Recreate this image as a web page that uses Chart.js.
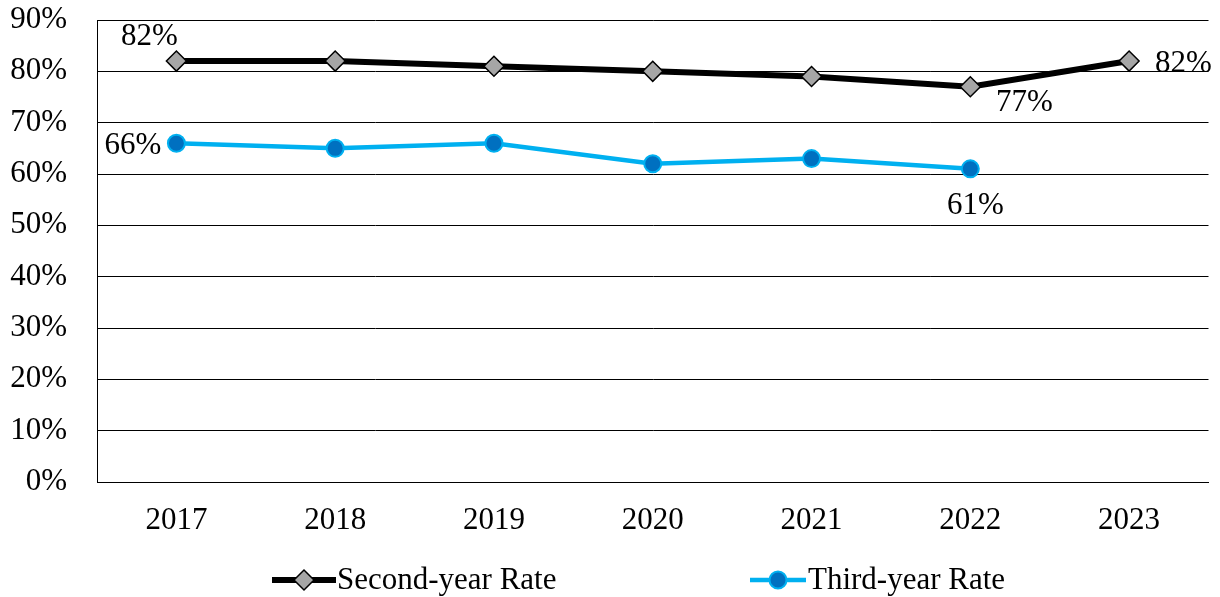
<!DOCTYPE html>
<html>
<head>
<meta charset="utf-8">
<script src="https://cdn.jsdelivr.net/npm/chart.js@4/dist/chart.umd.min.js"></script>
<style>
  html, body { margin: 0; padding: 0; background: #fff; }
  #wrap { width: 1220px; height: 597px; }
</style>
</head>
<body>
<div id="wrap"><canvas id="c" width="1220" height="597"></canvas></div>
<script>
// Retention rates by cohort year (percent)
const years = ['2017', '2018', '2019', '2020', '2021', '2022', '2023'];
const secondYearRate = [82, 82, 81, 80, 79, 77, 82];
const thirdYearRate = [66, 65, 66, 62, 63, 61, null];
const yTicks = [0, 10, 20, 30, 40, 50, 60, 70, 80, 90];

const FONT = '"Liberation Serif", "Times New Roman", serif';
const FONT_SIZE = 31;
const BLACK = '#000000';
const BLUE = '#00B0F0';
const BLUE_DARK = '#0070C0';
const GREY = '#A6A6A6';

// Which points carry a value label, and where the text sits relative to the point
const labelSpots = [
  { ds: 0, i: 0, dx: -27, dy: -24, align: 'center' },
  { ds: 0, i: 5, dx: 54, dy: 16, align: 'center' },
  { ds: 0, i: 6, dx: 26, dy: 3, align: 'left' },
  { ds: 1, i: 0, dx: -15, dy: 3, align: 'right' },
  { ds: 1, i: 5, dx: 5, dy: 37, align: 'center' }
];

const valueLabels = {
  id: 'valueLabels',
  afterDatasetsDraw(chart) {
    const ctx = chart.ctx;
    ctx.save();
    ctx.font = FONT_SIZE + 'px ' + FONT;
    ctx.fillStyle = '#000';
    ctx.textBaseline = 'middle';
    labelSpots.forEach(s => {
      const pt = chart.getDatasetMeta(s.ds).data[s.i];
      const v = chart.data.datasets[s.ds].data[s.i];
      ctx.textAlign = s.align;
      ctx.fillText(v + '%', pt.x + s.dx, pt.y + s.dy);
    });
    ctx.restore();
  }
};

// Legend: a short line segment with the series marker, then the series name
const lineLegend = {
  id: 'lineLegend',
  afterDraw(chart) {
    const ctx = chart.ctx;
    const y = 580;
    const items = [
      { x0: 272, x1: 336, tx: 337, ds: 0 },
      { x0: 750, x1: 806, tx: 808, ds: 1 }
    ];
    ctx.save();
    items.forEach(it => {
      const d = chart.data.datasets[it.ds];
      ctx.strokeStyle = d.borderColor;
      ctx.lineWidth = d.borderWidth;
      ctx.beginPath();
      ctx.moveTo(it.x0, y);
      ctx.lineTo(it.x1, y);
      ctx.stroke();
      ctx.fillStyle = d.pointBackgroundColor;
      ctx.strokeStyle = d.pointBorderColor;
      ctx.lineWidth = d.pointBorderWidth;
      Chart.helpers.drawPoint(ctx, {
        pointStyle: d.pointStyle,
        radius: d.pointRadius,
        borderWidth: d.pointBorderWidth,
        rotation: 0
      }, (it.x0 + it.x1) / 2, y);
      ctx.font = FONT_SIZE + 'px ' + FONT;
      ctx.fillStyle = '#000';
      ctx.textAlign = 'left';
      ctx.textBaseline = 'middle';
      ctx.fillText(d.label, it.tx, y + 1);
    });
    ctx.restore();
  }
};

new Chart(document.getElementById('c'), {
  type: 'line',
  data: {
    labels: years,
    datasets: [
      {
        label: 'Second-year Rate',
        data: secondYearRate,
        borderColor: BLACK,
        borderWidth: 6,
        pointStyle: 'rectRot',
        pointRadius: 10,
        pointHoverRadius: 10,
        pointBackgroundColor: GREY,
        pointBorderColor: BLACK,
        pointBorderWidth: 1.5,
        tension: 0
      },
      {
        label: 'Third-year Rate',
        data: thirdYearRate,
        borderColor: BLUE,
        borderWidth: 4.5,
        pointStyle: 'circle',
        pointRadius: 8.5,
        pointHoverRadius: 8.5,
        pointBackgroundColor: BLUE_DARK,
        pointBorderColor: BLUE,
        pointBorderWidth: 2,
        tension: 0
      }
    ]
  },
  options: {
    responsive: false,
    animation: false,
    events: [],
    layout: { padding: { left: 0, right: 8, top: 0, bottom: 60 } },
    plugins: {
      legend: { display: false },
      tooltip: { enabled: false },
      title: { display: false }
    },
    scales: {
      x: {
        type: 'category',
        offset: true,
        grid: { display: false, drawTicks: false },
        border: { display: true, color: BLACK, width: 1 },
        ticks: {
          color: '#000',
          font: { family: FONT, size: FONT_SIZE },
          padding: 20,
          maxRotation: 0,
          autoSkip: false
        },
        afterFit(scale) { scale.height = 55; }
      },
      y: {
        min: 0,
        max: 90,
        afterBuildTicks(scale) { scale.ticks = yTicks.map(v => ({ value: v })); },
        grid: { color: BLACK, lineWidth: 1, drawTicks: false },
        border: { display: true, color: BLACK, width: 1 },
        ticks: {
          color: '#000',
          font: { family: FONT, size: FONT_SIZE },
          padding: 30,
          callback: v => v + '%'
        },
        afterFit(scale) {
          scale.width = 97;
          scale.paddingTop = 20;
          scale.paddingBottom = 0;
        }
      }
    }
  },
  plugins: [valueLabels, lineLegend]
});
</script>
</body>
</html>
